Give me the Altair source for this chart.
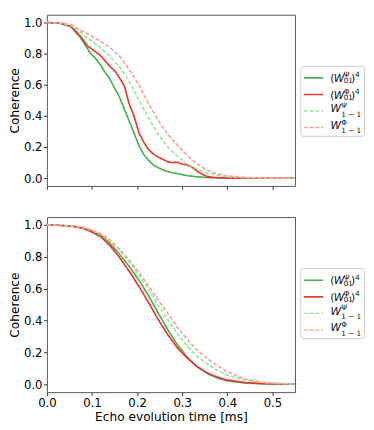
import altair as alt
import pandas as pd

# ---------------- data ----------------
series_names = ["psi01", "phi01", "psi11", "phi11"]
series_colors = ["#4caf50", "#e53935", "#99e699", "#ff9f9f"]
series_dash = [[1, 0], [1, 0], [4, 2], [4, 2]]
series_width = [1.7, 1.7, 1.4, 1.4]

x_ticks = [0.0, 0.1, 0.2, 0.3, 0.4, 0.5]
y_ticks = [0.0, 0.2, 0.4, 0.6, 0.8, 1.0]

# top panel
top_t_psi01 = [0, 0.03, 0.054, 0.075, 0.086, 0.097, 0.108, 0.118, 0.129, 0.139, 0.15, 0.161, 0.172, 0.182,
               0.193, 0.204, 0.215, 0.225, 0.236, 0.247, 0.258, 0.268, 0.29, 0.311, 0.333, 0.354, 0.376,
               0.4, 0.45, 0.55]
top_v_psi01 = [1.0, 0.995, 0.97, 0.90, 0.85, 0.80, 0.77, 0.73, 0.68, 0.64, 0.58, 0.52, 0.44, 0.37,
               0.29, 0.21, 0.15, 0.115, 0.085, 0.067, 0.052, 0.042, 0.028, 0.016, 0.008, 0.004, 0.002,
               0.0, 0.0, 0.0]

top_t_phi01 = [0, 0.03, 0.054, 0.075, 0.09, 0.104, 0.118, 0.13, 0.139, 0.15, 0.161, 0.172, 0.182, 0.193,
               0.204, 0.215, 0.225, 0.236, 0.247, 0.258, 0.268, 0.279, 0.29, 0.3, 0.311, 0.322, 0.333,
               0.344, 0.354, 0.365, 0.376, 0.4, 0.45, 0.55]
top_v_phi01 = [1.0, 0.995, 0.975, 0.91, 0.85, 0.82, 0.79, 0.75, 0.72, 0.69, 0.645, 0.59, 0.48, 0.40,
               0.29, 0.23, 0.185, 0.155, 0.135, 0.12, 0.105, 0.10, 0.102, 0.09, 0.085, 0.07, 0.045,
               0.025, 0.012, 0.006, 0.003, 0.0, 0.0, 0.0]

top_t_dash = [0, 0.03, 0.054, 0.075, 0.097, 0.118, 0.139, 0.161, 0.182, 0.204, 0.225, 0.247, 0.268,
              0.29, 0.311, 0.333, 0.354, 0.376, 0.397, 0.44, 0.5, 0.55]
top_v_psi11 = [1.0, 0.996, 0.98, 0.935, 0.885, 0.84, 0.785, 0.715, 0.625, 0.50, 0.39, 0.28, 0.20,
               0.14, 0.09, 0.058, 0.034, 0.02, 0.01, 0.003, 0.0, 0.0]
top_v_phi11 = [1.0, 0.997, 0.985, 0.95, 0.915, 0.88, 0.84, 0.785, 0.70, 0.60, 0.48, 0.37, 0.28,
               0.21, 0.145, 0.092, 0.053, 0.028, 0.015, 0.004, 0.0, 0.0]

# bottom panel
bot_t = [0, 0.03, 0.06, 0.08, 0.097, 0.12, 0.14, 0.16, 0.183, 0.205, 0.226, 0.247, 0.269, 0.29,
         0.312, 0.333, 0.355, 0.376, 0.398, 0.441, 0.484, 0.55]
bot_v_phi01 = [1.0, 0.998, 0.99, 0.978, 0.96, 0.925, 0.87, 0.80, 0.707, 0.61, 0.51, 0.405, 0.307,
               0.225, 0.162, 0.11, 0.072, 0.046, 0.027, 0.01, 0.003, 0.0]
bot_v_psi01 = [1.0, 0.998, 0.992, 0.982, 0.967, 0.935, 0.885, 0.82, 0.738, 0.65, 0.553, 0.445, 0.338,
               0.245, 0.168, 0.11, 0.068, 0.041, 0.022, 0.007, 0.002, 0.0]
bot_v_psi11 = [1.0, 0.998, 0.993, 0.984, 0.97, 0.94, 0.90, 0.845, 0.768, 0.68, 0.594, 0.497, 0.40,
               0.315, 0.236, 0.175, 0.128, 0.09, 0.06, 0.025, 0.009, 0.0]
bot_v_phi11 = [1.0, 0.998, 0.993, 0.985, 0.972, 0.945, 0.905, 0.85, 0.779, 0.70, 0.615, 0.528, 0.44,
               0.355, 0.277, 0.215, 0.162, 0.12, 0.082, 0.031, 0.01, 0.001]

x_title = "Echo evolution time [ms]"
y_title = "Coherence"

FONT = "DejaVu Sans"


def long_df(pairs):
    rows = []
    for name, ts, vs in pairs:
        for t, v in zip(ts, vs):
            rows.append({"t": t, "v": v, "series": name})
    return pd.DataFrame(rows)


top_df = long_df([
    ("psi01", top_t_psi01, top_v_psi01),
    ("phi01", top_t_phi01, top_v_phi01),
    ("psi11", top_t_dash, top_v_psi11),
    ("phi11", top_t_dash, top_v_phi11),
])
bot_df = long_df([
    ("psi01", bot_t, bot_v_psi01),
    ("phi01", bot_t, bot_v_phi01),
    ("psi11", bot_t, bot_v_psi11),
    ("phi11", bot_t, bot_v_phi11),
])

W = 255
one = pd.DataFrame({"a": [0]})


def legend_layers():
    layers = []
    box = alt.Chart(one).mark_rect(fill="white", stroke="#cccccc", strokeWidth=1, cornerRadius=3).encode(
        x=alt.value(261), x2=alt.value(326.5), y=alt.value(53), y2=alt.value(125))
    layers.append(box)
    rows_y = [65, 82, 99, 116]
    greek = ["\u03a8", "\u03a6", "\u03a8", "\u03a6"]
    for i, ry in enumerate(rows_y):
        layers.append(alt.Chart(one).mark_rule(color=series_colors[i], strokeWidth=series_width[i],
                                               strokeDash=series_dash[i]).encode(
            x=alt.value(264), x2=alt.value(284), y=alt.value(ry)))
        if i < 2:
            base = ry + 4.3
            pieces = [
                ("(", 291.3, base, 11, "normal"),
                ("W", 294.8, base, 11, "italic"),
                (greek[i], 305.0, ry - 0.8, 7.5, "normal"),
                ("01", 305.0, ry + 5.6, 7.5, "normal"),
                (")", 312.6, base, 11, "normal"),
                ("4", 316.8, ry - 0.8, 7.5, "normal"),
            ]
        else:
            base = ry + 1.2
            pieces = [
                ("W", 291.5, base, 11, "italic"),
                (greek[i], 302.5, ry - 3.0, 7.5, "normal"),
                ("1 \u2212 1", 302.5, ry + 5.8, 7.5, "normal"),
            ]
        for txt, px, py, fs, st in pieces:
            layers.append(alt.Chart(one).mark_text(text=txt, align="left", baseline="alphabetic",
                                                   fontSize=fs, fontStyle=st, font=FONT,
                                                   color="#111111").encode(
                x=alt.value(px), y=alt.value(py)))
    return layers


def panel(df, height, bottom):
    xaxis = alt.Axis(values=x_ticks, format=".1f", labels=bottom, title=x_title if bottom else None,
                     domain=False, tickSize=3.5, labelPadding=2, titlePadding=3, labelFlush=False)
    yaxis = alt.Axis(values=y_ticks, format=".1f", title=y_title, domain=False, tickSize=3.5,
                     labelPadding=1.5, titlePadding=2, labelFlush=False)
    lines = alt.Chart(df).mark_line().encode(
        x=alt.X("t:Q", scale=alt.Scale(domain=[0, 0.55], nice=False, zero=False, padding=0), axis=xaxis),
        y=alt.Y("v:Q", scale=alt.Scale(domain=[-0.05, 1.05], nice=False, zero=False, padding=0), axis=yaxis),
        color=alt.Color("series:N", scale=alt.Scale(domain=series_names, range=series_colors), legend=None),
        strokeDash=alt.StrokeDash("series:N", scale=alt.Scale(domain=series_names, range=series_dash),
                                  legend=None),
        strokeWidth=alt.StrokeWidth("series:N", scale=alt.Scale(domain=series_names, range=series_width),
                                    legend=None),
    )
    return alt.layer(lines, *legend_layers()).properties(width=W, height=height)


chart = alt.vconcat(panel(top_df, 176, False), panel(bot_df, 180, True), spacing=26).properties(
    padding={"left": 0, "top": 0, "right": 0, "bottom": 0}
).configure_view(stroke="#555555", strokeWidth=1).configure_axis(
    labelFont=FONT, titleFont=FONT, labelFontSize=12, titleFontSize=12.5, labelColor="#000000",
    titleColor="#000000", tickColor="#333333", grid=False, titleFontWeight="normal"
)

chart.save("out.html", embed_options={"renderer": "svg", "actions": False})
